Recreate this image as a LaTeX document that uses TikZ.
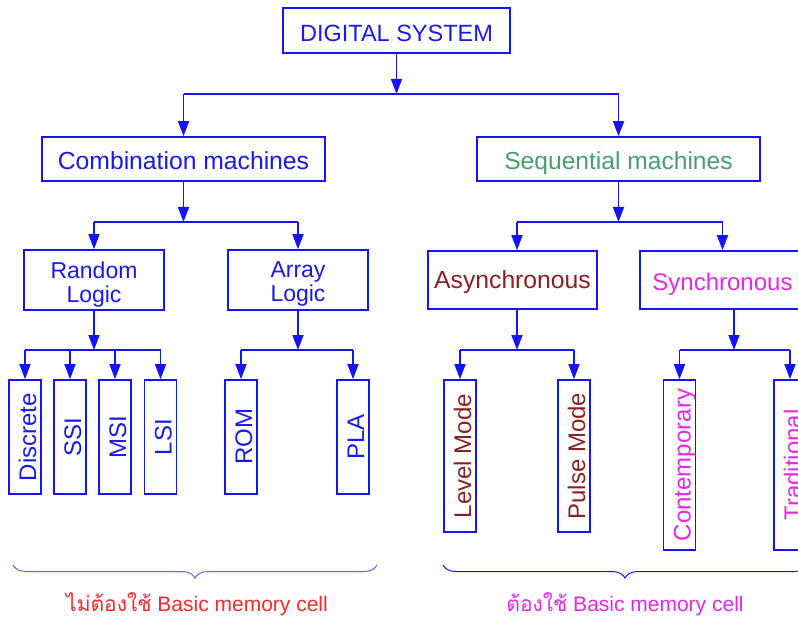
\documentclass[tikz,border=0pt]{standalone}
\usepackage{fontspec}
\usepackage{graphicx}
\setmainfont{Liberation Sans}
\newfontfamily\thaifont[Script=Thai]{Loma}
\usetikzlibrary{arrows.meta,decorations.pathreplacing}

\definecolor{lineblue}{RGB}{20,20,245}
\definecolor{txtblue}{RGB}{25,25,240}
\definecolor{seqgreen}{RGB}{72,160,110}
\definecolor{asyred}{RGB}{140,32,32}
\definecolor{synmag}{RGB}{230,40,230}
\definecolor{notred}{RGB}{255,40,40}
\definecolor{bracelight}{RGB}{95,95,255}

% text turned upright, sitting a little right of the box centre
\newcommand\sidetext[1]{\rotatebox{90}{\raisebox{-2.5bp}[17.2bp][0bp]{#1}}}

\tikzset{
  box/.style={draw=lineblue, line width=1.6bp, fill=white, inner sep=0pt,
    align=center, font=\fontsize{24bp}{25bp}\selectfont},
  vbox/.style={box, minimum width=32bp},
  boxtext/.style={inner sep=0pt, align=center,
    font=\fontsize{23bp}{23.5bp}\selectfont},
  bus/.style={draw=lineblue, line width=1.6bp},
  arrowline/.style={bus, -{Triangle[length=15bp,width=11bp]}},
  bracket/.style={line width=1bp, decorate,
    decoration={brace, mirror, amplitude=13bp}},
  note/.style={font=\fontsize{21bp}{23bp}\selectfont, inner sep=0pt}
}

\begin{document}
\begin{tikzpicture}[x=1bp, y=-1bp]
\useasboundingbox (0,0) rectangle (798,618);
\clip (0,0) rectangle (798,618);

% top level
\node[box, text=txtblue, minimum width=227bp, minimum height=45bp,
  font=\fontsize{23.5bp}{25bp}\selectfont, text height=22.8bp, text depth=0pt]
  (ds) at (396.5,30.5) {DIGITAL SYSTEM};

% second level
\node[box, text=txtblue, minimum width=283bp, minimum height=44bp,
  font=\fontsize{24.7bp}{26bp}\selectfont, text height=21.7bp, text depth=0pt]
  (comb) at (183.5,159) {Combination machines};
\node[box, text=seqgreen, minimum width=283bp, minimum height=44bp,
  font=\fontsize{24.6bp}{26bp}\selectfont, text height=21bp, text depth=0pt]
  (seq) at (618.5,159) {Sequential machines};

% third level
\node[box, minimum width=140bp, minimum height=60bp] (rand) at (94,280) {};
\node[boxtext, text=txtblue] (randtext) at ([yshift=-4.5bp]rand.center) {Random\\Logic};
\node[box, minimum width=140bp, minimum height=60bp] (arr) at (298,280) {};
\node[boxtext, text=txtblue] (arrtext) at ([yshift=-4bp]arr.center) {Array\\Logic};
\node[box, text=asyred, minimum width=169bp, minimum height=58bp,
  font=\fontsize{24.7bp}{26bp}\selectfont, text height=17.7bp, text depth=0pt]
  (async) at (512.5,280) {Asynchronous};
\node[box, text=synmag, minimum width=165bp, minimum height=58bp,
  text height=21.2bp, text depth=0pt]
  (sync) at (722.5,280) {Synchronous};

% leaves
\node[vbox, text=txtblue, minimum height=114bp] (disc) at (25,437) {\sidetext{Discrete}};
\node[vbox, text=txtblue, minimum height=114bp] (ssi) at (70,437) {\sidetext{SSI}};
\node[vbox, text=txtblue, minimum height=114bp] (msi) at (115,437) {\sidetext{MSI}};
\node[vbox, text=txtblue, minimum height=114bp] (lsi) at (160.5,437) {\sidetext{LSI}};
\node[vbox, text=txtblue, minimum height=114bp] (rom) at (241,437) {\sidetext{ROM}};
\node[vbox, text=txtblue, minimum height=114bp] (pla) at (353,437) {\sidetext{PLA}};
\node[vbox, text=asyred, minimum height=152bp] (level) at (460,456) {\sidetext{Level Mode}};
\node[vbox, text=asyred, minimum height=152bp] (pulse) at (574,456) {\sidetext{Pulse Mode}};
\node[vbox, text=synmag, minimum height=170bp] (cont) at (679.5,465) {\sidetext{Contemporary}};
\node[vbox, text=synmag, minimum height=170bp] (trad) at (790,465) {\sidetext{Traditional}};

% bus levels
\coordinate (bus0) at (0,94);
\coordinate (bus1) at (0,222);
\coordinate (bus2) at (0,350);
\coordinate (asyx) at (517,0);
\coordinate (synx) at (734,0);

% DIGITAL SYSTEM -> machines
\draw[arrowline] (ds.south) -- (ds.south |- bus0);
\draw[bus] (comb.north |- bus0) -- (seq.north |- bus0);
\draw[arrowline] (comb.north |- bus0) -- (comb.north);
\draw[arrowline] (seq.north |- bus0) -- (seq.north);

% Combination machines -> logic
\draw[arrowline] (comb.south) -- (comb.south |- bus1);
\draw[bus] (rand.north |- bus1) -- (arr.north |- bus1);
\draw[arrowline] (rand.north |- bus1) -- (rand.north);
\draw[arrowline] (arr.north |- bus1) -- (arr.north);

% Sequential machines -> modes
\draw[arrowline] (seq.south) -- (seq.south |- bus1);
\draw[bus] (asyx |- bus1) -- (sync.north |- bus1);
\draw[arrowline] (asyx |- bus1) -- (asyx |- async.north);
\draw[arrowline] (sync.north |- bus1) -- (sync.north);

% Random Logic -> leaves
\draw[arrowline] (rand.south) -- (rand.south |- bus2);
\draw[bus] (disc.north |- bus2) -- (lsi.north |- bus2);
\foreach \n in {disc,ssi,msi,lsi}
  \draw[arrowline] (\n.north |- bus2) -- (\n.north);

% Array Logic -> leaves
\draw[arrowline] (arr.south) -- (arr.south |- bus2);
\draw[bus] (rom.north |- bus2) -- (pla.north |- bus2);
\foreach \n in {rom,pla}
  \draw[arrowline] (\n.north |- bus2) -- (\n.north);

% Asynchronous -> leaves
\draw[arrowline] (asyx |- async.south) -- (asyx |- bus2);
\draw[bus] (level.north |- bus2) -- (pulse.north |- bus2);
\foreach \n in {level,pulse}
  \draw[arrowline] (\n.north |- bus2) -- (\n.north);

% Synchronous -> leaves
\draw[arrowline] (synx |- sync.south) -- (synx |- bus2);
\draw[bus] (cont.north |- bus2) -- (trad.north |- bus2);
\foreach \n in {cont,trad}
  \draw[arrowline] (\n.north |- bus2) -- (\n.north);

% braces and notes
\coordinate (bl0) at (13,565);
\coordinate (bl1) at (377,565);
\coordinate (br0) at (443,565);
\coordinate (br1) at (807,565);
\draw[bracket, draw=bracelight] (bl0) -- (bl1);
\draw[bracket, draw=lineblue] (br0) -- (br1);

\node[note, text=notred] (nomem) at (197,604) {{\thaifont ไม่ต้องใช้} Basic memory cell};
\node[note, text=synmag] (mem) at (625,604) {{\thaifont ต้องใช้} Basic memory cell};
\end{tikzpicture}
\end{document}
